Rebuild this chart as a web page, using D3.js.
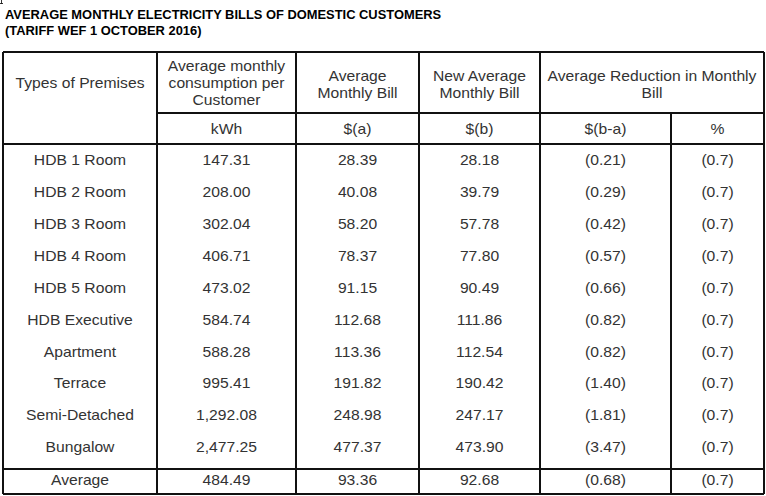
<!DOCTYPE html>
<html><head><meta charset="utf-8">
<script src="https://cdn.jsdelivr.net/npm/d3@7/dist/d3.min.js"></script>
<style>
html,body{margin:0;padding:0;background:#fff;}
svg{display:block;}
text{font-family:Arial,"Liberation Sans",sans-serif;}
</style></head>
<body><svg id="c" width="766" height="496"></svg>
<script>
const titleLines = ["AVERAGE MONTHLY ELECTRICITY BILLS OF DOMESTIC CUSTOMERS", "(TARIFF WEF 1 OCTOBER 2016)"];
const premises = ["HDB 1 Room","HDB 2 Room","HDB 3 Room","HDB 4 Room","HDB 5 Room","HDB Executive","Apartment","Terrace","Semi-Detached","Bungalow"];
const consumption = ["147.31","208.00","302.04","406.71","473.02","584.74","588.28","995.41","1,292.08","2,477.25"];
const billA = ["28.39","40.08","58.20","78.37","91.15","112.68","113.36","191.82","248.98","477.37"];
const billB = ["28.18","39.79","57.78","77.80","90.49","111.86","112.54","190.42","247.17","473.90"];
const reduction = ["(0.21)","(0.29)","(0.42)","(0.57)","(0.66)","(0.82)","(0.82)","(1.40)","(1.81)","(3.47)"];
const reductionPct = ["(0.7)","(0.7)","(0.7)","(0.7)","(0.7)","(0.7)","(0.7)","(0.7)","(0.7)","(0.7)"];
const averageRow = ["Average","484.49","93.36","92.68","(0.68)","(0.7)"];
const headers = [
  ["Types of Premises"],
  ["Average monthly","consumption per","Customer"],
  ["Average","Monthly Bill"],
  ["New Average","Monthly Bill"],
  ["Average Reduction in Monthly","Bill"]
];
const units = ["kWh","$(a)","$(b)","$(b-a)","%"];

const svg = d3.select("#c");
const ink = "#111";
const txt = "#333";
const colEdges = [3,157,296,419,540,671,764];
const colMid = i => (colEdges[i]+colEdges[i+1])/2;
const yRow = d3.scalePoint().domain(premises).range([160.5,447.5]);
const yTop=52, ySub=113, yBody=144, yAvg=469, yBot=494;
const sx = 1.12;

function put(x,y,s,opts={}){
  svg.append("text")
    .attr("transform",`translate(${x},${y}) scale(${opts.sx||sx},1)`)
    .attr("text-anchor",opts.anchor||"middle")
    .attr("dominant-baseline","central")
    .attr("font-size",opts.size||14)
    .attr("font-weight",opts.bold?"bold":"normal")
    .attr("fill",opts.fill||txt)
    .text(s);
}

// title
titleLines.forEach((t,i)=>{
  svg.append("text").attr("x",5).attr("y",14+i*16.5)
    .attr("dominant-baseline","central")
    .attr("font-size",12.9).attr("font-weight","bold").attr("fill","#000").text(t);
});
svg.append("path").attr("d","M1.5,0 V3.5 M0,3.5 H3").attr("stroke","#000").attr("fill","none").attr("stroke-width",0.8);

// grid
const g = svg.append("g").attr("stroke",ink).attr("stroke-width",1.1).attr("shape-rendering","crispEdges");
const hl = (y,x1,x2)=>g.append("line").attr("x1",x1).attr("x2",x2).attr("y1",y).attr("y2",y);
const vl = (x,y1,y2)=>g.append("line").attr("x1",x).attr("x2",x).attr("y1",y1).attr("y2",y2);
hl(yTop,colEdges[0],colEdges[6]);
hl(ySub,colEdges[1],colEdges[6]);
hl(yBody,colEdges[0],colEdges[6]);
hl(yAvg,colEdges[0],colEdges[6]);
hl(yBot,colEdges[0],colEdges[6]);
[0,1,2,3,4,6].forEach(i=>vl(colEdges[i],yTop,yBot));
vl(colEdges[5],ySub,yBot);

// headers
put(colMid(0),83.5,headers[0][0]);
headers[1].forEach((t,i)=>put(colMid(1),66.5+i*17,t));
headers[2].forEach((t,i)=>put(colMid(2),76.5+i*16.5,t));
headers[3].forEach((t,i)=>put(colMid(3),76.5+i*16.5,t));
headers[4].forEach((t,i)=>put((colEdges[4]+colEdges[6])/2,76.5+i*16.5,t));
units.forEach((u,i)=>put(colMid(i+1),129,u));

// body
const cols=[premises,consumption,billA,billB,reduction,reductionPct];
premises.forEach((p,r)=>{
  cols.forEach((c,ci)=>put(colMid(ci),yRow(p),c[r]));
});
averageRow.forEach((v,ci)=>put(colMid(ci),480,v));
</script></body></html>
